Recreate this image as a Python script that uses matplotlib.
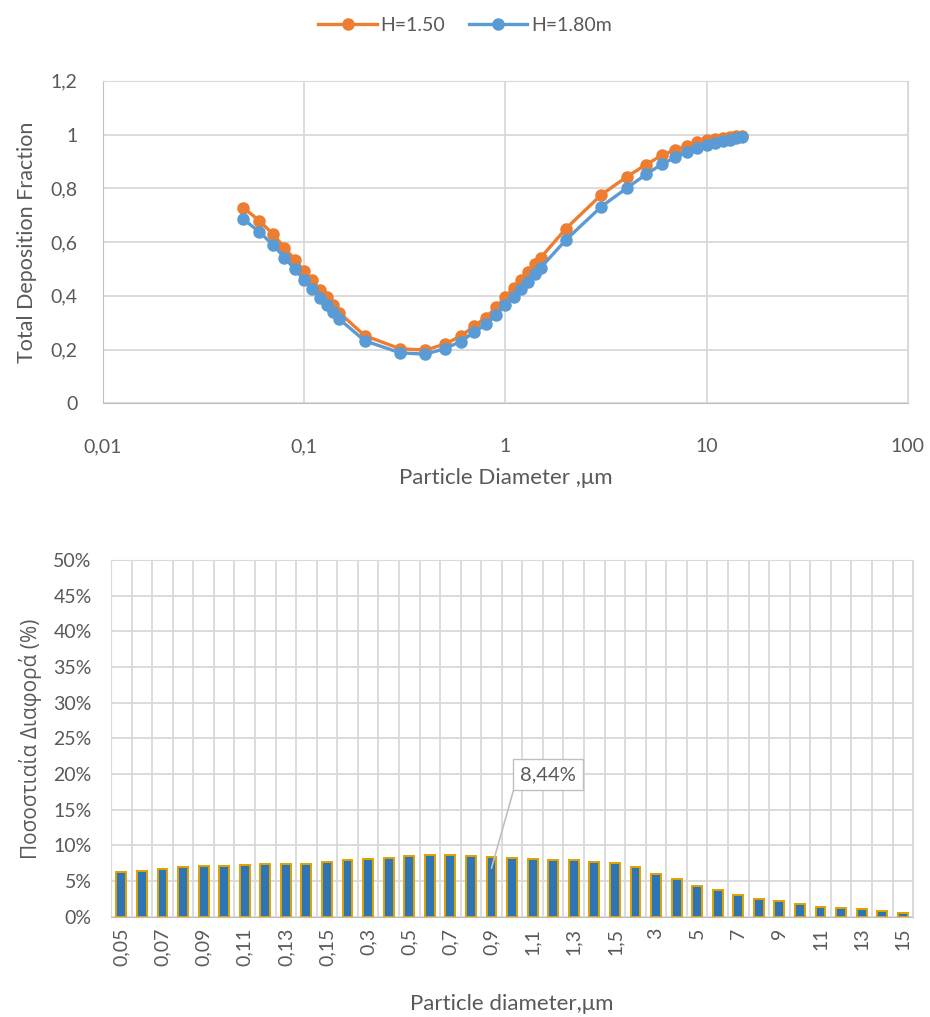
import numpy as np
import matplotlib
matplotlib.use('Agg')
import matplotlib.pyplot as plt
from matplotlib.ticker import FixedLocator, NullLocator

plt.rcParams['font.family'] = ['Lato', 'Open Sans', 'DejaVu Sans']

# particle diameters, um
diam = [0.05, 0.06, 0.07, 0.08, 0.09, 0.1, 0.11, 0.12, 0.13, 0.14, 0.15,
        0.2, 0.3, 0.4, 0.5, 0.6, 0.7, 0.8, 0.9,
        1, 1.1, 1.2, 1.3, 1.4, 1.5,
        2, 3, 4, 5, 6, 7, 8, 9, 10, 11, 12, 13, 14, 15]

# total deposition fraction, H=1.50
h150 = [0.728, 0.679, 0.630, 0.579, 0.535, 0.493, 0.457, 0.422, 0.394, 0.364, 0.337,
        0.252, 0.203, 0.198, 0.220, 0.250, 0.287, 0.319, 0.357,
        0.396, 0.428, 0.459, 0.489, 0.517, 0.542,
        0.650, 0.776, 0.842, 0.888, 0.923, 0.943, 0.959, 0.971, 0.978, 0.984, 0.988, 0.991, 0.994, 0.996]

# total deposition fraction, H=1.80m
h180 = [0.685, 0.638, 0.590, 0.542, 0.499, 0.460, 0.426, 0.392, 0.367, 0.338, 0.313,
        0.233, 0.188, 0.183, 0.203, 0.230, 0.264, 0.294, 0.330,
        0.365, 0.395, 0.426, 0.453, 0.480, 0.505,
        0.608, 0.732, 0.800, 0.852, 0.890, 0.915, 0.936, 0.950, 0.961, 0.970, 0.977, 0.981, 0.986, 0.990]

# percentage difference (%)
diff_pct = [6.2, 6.4, 6.75, 6.9, 7.1, 7.1, 7.3, 7.45, 7.45, 7.45, 7.7,
            7.9, 8.05, 8.3, 8.53, 8.68, 8.68, 8.47, 8.44,
            8.3, 8.15, 7.96, 7.96, 7.72, 7.47,
            6.95, 6.0, 5.25, 4.3, 3.75, 3.0, 2.5, 2.15, 1.75, 1.4, 1.17, 1.03, 0.84, 0.56]

top_xticks = [0.01, 0.1, 1, 10, 100]
top_xlabels = ['0,01', '0,1', '1', '10', '100']
top_yticks = [0, 0.2, 0.4, 0.6, 0.8, 1.0, 1.2]
top_ylabels = ['0', '0,2', '0,4', '0,6', '0,8', '1', '1,2']
bot_yticks = list(range(0, 55, 5))
bot_ylabels = ['%d%%' % v for v in bot_yticks]

txt = '#595959'
grid = '#d9d9d9'
orange = '#ED7D31'
blue = '#5B9BD5'

fig = plt.figure(figsize=(9.3, 10.17), dpi=100)

# ---- top chart
ax1 = fig.add_axes([0.1104, 0.6034, 0.8659, 0.3172])
ax1.plot(diam, h150, color=orange, lw=2.4, marker='o', ms=8, label='H=1.50', zorder=3)
ax1.plot(diam, h180, color=blue, lw=2.4, marker='o', ms=8, label='H=1.80m', zorder=4)
ax1.set_xscale('log')
ax1.set_xlim(0.01, 100)
ax1.set_ylim(0, 1.2)
ax1.xaxis.set_major_locator(FixedLocator(top_xticks))
ax1.xaxis.set_minor_locator(NullLocator())
ax1.set_xticklabels(top_xlabels)
ax1.set_yticks(top_yticks)
ax1.set_yticklabels(top_ylabels)
ax1.grid(True, color=grid, lw=1.3)
ax1.set_axisbelow(True)
ax1.tick_params(length=0, labelsize=14, colors=txt)
ax1.tick_params(axis='x', pad=25)
ax1.tick_params(axis='y', pad=18)
for s in ax1.spines.values():
    s.set_color(grid)
ax1.spines['left'].set_color('#bfbfbf')
ax1.spines['bottom'].set_color('#bfbfbf')
ax1.set_xlabel('Particle Diameter ,μm', fontsize=16, color=txt, labelpad=9)
ax1.set_ylabel('Total Deposition Fraction', fontsize=15.5, color=txt, labelpad=10)

fig.legend(loc='center', bbox_to_anchor=(0.5, 0.975), ncol=2, frameon=False,
           fontsize=14, handlelength=3, columnspacing=1.2, handletextpad=0.2,
           labelcolor=txt)

# ---- bottom chart
ax2 = fig.add_axes([0.1194, 0.0986, 0.8624, 0.3508])
x = np.arange(len(diam))
ax2.bar(x, diff_pct, width=0.48, color='#2E75B6', edgecolor='#E0A200', lw=1.4, zorder=3)
ax2.set_xlim(-0.5, len(diam) - 0.5)
ax2.set_ylim(0, 50)
ax2.set_yticks(bot_yticks)
ax2.set_yticklabels(bot_ylabels)
ax2.set_xticks(x[::2])
ax2.set_xticklabels([('%g' % d).replace('.', ',') for d in diam[::2]], rotation=90)
ax2.set_xticks(np.arange(-0.5, len(diam)), minor=True)
ax2.grid(True, which='minor', axis='x', color=grid, lw=1.3)
ax2.grid(True, which='major', axis='y', color=grid, lw=1.3)
ax2.set_axisbelow(True)
ax2.tick_params(which='both', length=0, labelsize=14, colors=txt)
ax2.tick_params(axis='x', pad=8)
ax2.tick_params(axis='y', pad=14)
for s in ax2.spines.values():
    s.set_color(grid)
ax2.spines['bottom'].set_color('#bfbfbf')
ax2.set_xlabel('Particle diameter,μm', fontsize=16, color=txt, labelpad=20)
ax2.set_ylabel('Ποσοστιαία Διαφορά (%)', fontsize=15, color=txt, labelpad=8,
               family=['Open Sans', 'DejaVu Sans'])

i9 = diam.index(0.9)
label = ('%.2f%%' % diff_pct[i9]).replace('.', ',')
ax2.annotate(label, xy=(i9, 6.8), xytext=(19.4, 19.9),
             textcoords='data', fontsize=14.5, color=txt, ha='left', va='center',
             bbox=dict(boxstyle='square,pad=0.35', fc='white', ec='#bfbfbf'),
             arrowprops=dict(arrowstyle='-', color='#bfbfbf', lw=1.2,
                             relpos=(0, 1), shrinkA=0, shrinkB=0),
             zorder=5)

fig.savefig('out.png', dpi=100, facecolor='white')
